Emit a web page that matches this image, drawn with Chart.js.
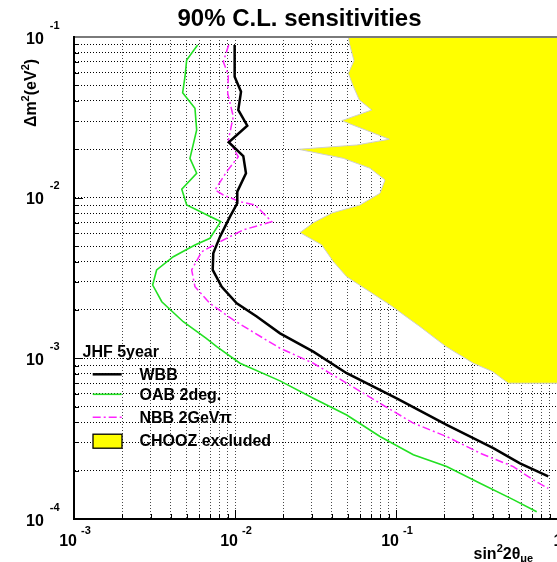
<!DOCTYPE html>
<html>
<head>
<meta charset="utf-8">
<script src="https://cdn.jsdelivr.net/npm/chart.js@4.4.1/dist/chart.umd.min.js"></script>
<style>
html,body{margin:0;padding:0;background:#fff;}
#wrap{position:relative;width:557px;height:562px;overflow:hidden;font-family:"Liberation Sans",Arial,Helvetica,sans-serif;font-weight:bold;color:#000;}
#wrap canvas{position:absolute;left:0;top:0;}
.t{position:absolute;white-space:nowrap;line-height:1;font-size:16px;}
.e{position:relative;font-size:11px;}
#legsvg{position:absolute;left:0;top:0;}
</style>
</head>
<body>
<div id="wrap">
<canvas id="c" width="557" height="562"></canvas>
<svg id="legsvg" width="557" height="562"></svg>
</div>
<script>
// ---------- data ----------
// x = sin^2 2theta_mue, y = delta m^2 (eV^2)
const wbbX = [0.00995, 0.00995, 0.0109, 0.01048, 0.01192, 0.00914, 0.01126, 0.0117, 0.01033, 0.01033, 0.00931, 0.00807, 0.00733, 0.00727, 0.00827, 0.01025, 0.01364, 0.01904, 0.03064, 0.04941, 0.101, 0.2065, 0.4021, 0.589, 0.883];
const wbbY = [0.0892, 0.0566, 0.04566, 0.03513, 0.02805, 0.02212, 0.01817, 0.01418, 0.0109, 0.00923, 0.00762, 0.00572, 0.00451, 0.00355, 0.00279, 0.0022, 0.00182, 0.00143, 0.0011, 0.000808, 0.000564, 0.000385, 0.000276, 0.000222, 0.000184];

const oabX = [0.00586, 0.00501, 0.00489, 0.00473, 0.00564, 0.00578, 0.00525, 0.00578, 0.00467, 0.00501, 0.00815, 0.00699, 0.00564, 0.00414, 0.00326, 0.00308, 0.00351, 0.00477, 0.0066, 0.0077, 0.01074, 0.01904, 0.03064, 0.04941, 0.0795, 0.1281, 0.2065, 0.3325, 0.5352, 0.7479];
const oabY = [0.0892, 0.0719, 0.0566, 0.045, 0.036, 0.02638, 0.01758, 0.01418, 0.01128, 0.00901, 0.00709, 0.00559, 0.00508, 0.00429, 0.00355, 0.00286, 0.00225, 0.00169, 0.001334, 0.001183, 0.000932, 0.000724, 0.000564, 0.000444, 0.000326, 0.000251, 0.000212, 0.000167, 0.000132, 0.000111];

const nbbX = [0.00914, 0.00846, 0.00909, 0.00901, 0.00976, 0.00909, 0.01048, 0.00888, 0.00751, 0.00846, 0.01074, 0.01331, 0.0169, 0.01126, 0.00807, 0.00621, 0.00538, 0.00564, 0.00699, 0.00976, 0.01499, 0.01904, 0.03064, 0.04941, 0.0795, 0.1281, 0.2065, 0.3325, 0.5352, 0.7125, 0.883];
const nbbY = [0.0892, 0.0702, 0.058, 0.04464, 0.03192, 0.02286, 0.01799, 0.01451, 0.01117, 0.01039, 0.00944, 0.00901, 0.00709, 0.0063, 0.00532, 0.00461, 0.00355, 0.00279, 0.0022, 0.001733, 0.001334, 0.001156, 0.000932, 0.0007, 0.000525, 0.000395, 0.000326, 0.000257, 0.000212, 0.000175, 0.000155];

// CHOOZ excluded region: left boundary, top to bottom (region extends to the right edge)
const choozX = [0.05055, 0.05128, 0.05484, 0.05055, 0.05383, 0.05916, 0.07066, 0.04601, 0.09087, 0.057, 0.02473, 0.04708, 0.06895, 0.08545, 0.0795, 0.05976, 0.04005, 0.03064, 0.02533, 0.03455, 0.0408, 0.04941, 0.09177, 0.141, 0.2045, 0.302, 0.3976, 0.4983];
const choozY = [0.1, 0.0914, 0.0712, 0.0594, 0.0503, 0.04055, 0.03513, 0.03014, 0.02309, 0.02128, 0.02001, 0.01758, 0.01524, 0.01288, 0.01065, 0.00901, 0.00803, 0.00699, 0.00606, 0.00508, 0.004, 0.00322, 0.00215, 0.001575, 0.001183, 0.000932, 0.000827, 0.0007];

// axes
const xMin = 0.001, xMax = 1;
const yMin = 0.0001, yMax = 0.1;
const xTickValues = [0.001, 0.01, 0.1, 1];
const xTickBase = ['10', '10', '10', '1'];
const xTickExp = ['-3', '-2', '-1', ''];
const yTickValues = [0.0001, 0.001, 0.01, 0.1];
const yTickBase = ['10', '10', '10', '10'];
const yTickExp = ['-4', '-3', '-2', '-1'];

const titleText = '90% C.L. sensitivities';
const legendTitle = 'JHF 5year';
const seriesNames = ['WBB', 'OAB 2deg.', 'NBB 2GeVπ', 'CHOOZ excluded'];

// styles
const colWBB = '#000000', colOAB = '#22e022', colNBB = '#ff22ff', colCHOOZ = '#ffff00', colCHOOZEdge = '#cfcfcf';
const nbbDash = [8, 3, 2, 3];

// ---------- build ----------
function decadeMultiples(lo, hi) {
  const out = [];
  for (let e = Math.round(Math.log10(lo)); e < Math.round(Math.log10(hi)); e++) {
    for (let m = 1; m <= 9; m++) out.push(+(m * Math.pow(10, e)).toPrecision(3));
  }
  out.push(hi);
  return out;
}
const gridX = decadeMultiples(xMin, xMax);
const gridY = decadeMultiples(yMin, yMax);
const isDecade = v => Math.abs(Math.log10(v) - Math.round(Math.log10(v))) < 1e-6;

const pts = (xs, ys) => xs.map((x, i) => ({x: x, y: ys[i]}));

// closed CHOOZ polygon: boundary, then along the bottom to the right edge, then up the right edge
const choozEdge = pts(choozX, choozY).concat([{x: xMax, y: choozY[choozY.length - 1]}]);
const choozShape = choozEdge.concat([{x: xMax, y: yMax}]);

const inTicks = {
  id: 'inTicks',
  afterDatasetsDraw(chart) {
    const {ctx, chartArea: a, scales: {x, y}} = chart;
    ctx.save();
    ctx.strokeStyle = '#000';
    ctx.lineWidth = 1;
    gridX.forEach(v => {
      const px = Math.round(x.getPixelForValue(v)) + 0.5;
      const L = isDecade(v) ? 9 : 5;
      ctx.beginPath(); ctx.moveTo(px, a.bottom); ctx.lineTo(px, a.bottom - L); ctx.stroke();
    });
    gridY.forEach(v => {
      const py = Math.round(y.getPixelForValue(v)) + 0.5;
      const L = isDecade(v) ? 9 : 5;
      ctx.beginPath(); ctx.moveTo(a.left, py); ctx.lineTo(a.left + L, py); ctx.stroke();
    });
    ctx.restore();
  }
};

const chart = new Chart(document.getElementById('c'), {
  type: 'scatter',
  data: {
    datasets: [
      {label: seriesNames[3], data: choozShape, showLine: true, fill: 'shape', backgroundColor: colCHOOZ,
       borderColor: 'rgba(0,0,0,0)', borderWidth: 0, pointRadius: 0, tension: 0, order: 5},
      {label: seriesNames[3] + ' edge', data: choozEdge, showLine: true, fill: false,
       borderColor: colCHOOZEdge, borderWidth: 1, pointRadius: 0, tension: 0, order: 4},
      {label: seriesNames[1], data: pts(oabX, oabY), showLine: true, fill: false, borderColor: colOAB,
       borderWidth: 1.6, pointRadius: 0, tension: 0, order: 3},
      {label: seriesNames[2], data: pts(nbbX, nbbY), showLine: true, fill: false, borderColor: colNBB,
       borderWidth: 1.5, borderDash: nbbDash, pointRadius: 0, tension: 0, order: 2},
      {label: seriesNames[0], data: pts(wbbX, wbbY), showLine: true, fill: false, borderColor: colWBB,
       borderWidth: 2.5, pointRadius: 0, tension: 0, order: 1}
    ]
  },
  options: {
    responsive: false,
    animation: false,
    layout: {padding: {left: 74, top: 37, right: 0, bottom: 43}},
    plugins: {legend: {display: false}, tooltip: {enabled: false}, title: {display: false}},
    scales: {
      x: {
        type: 'logarithmic', min: xMin, max: xMax, position: 'bottom',
        afterBuildTicks: s => { s.ticks = gridX.map(v => ({value: v})); },
        afterFit: s => { s.height = 0; },
        ticks: {display: false, autoSkip: false},
        grid: {color: '#4a4a4a', lineWidth: 1, drawTicks: false},
        border: {display: true, color: '#000', width: 2, dash: [1, 2], z: 1}
      },
      x2: {
        type: 'logarithmic', min: xMin, max: xMax, position: 'top',
        afterFit: s => { s.height = 0; },
        ticks: {display: false},
        grid: {display: false, drawTicks: false},
        border: {display: true, color: '#7a7a7a', width: 2, z: 1}
      },
      y: {
        type: 'logarithmic', min: yMin, max: yMax, position: 'left',
        afterBuildTicks: s => { s.ticks = gridY.map(v => ({value: v})); },
        afterFit: s => { s.width = 0; },
        ticks: {display: false, autoSkip: false},
        grid: {color: '#000', lineWidth: 1, drawTicks: false},
        border: {display: true, color: '#000', width: 2, dash: [1, 2], z: 1}
      }
    }
  },
  plugins: [inTicks]
});

// ---------- text overlays (real text, positioned from the chart's scales) ----------
const wrap = document.getElementById('wrap');
function addText(html, css) {
  const d = document.createElement('div');
  d.className = 't';
  d.innerHTML = html;
  Object.assign(d.style, css);
  wrap.appendChild(d);
  return d;
}
const area = chart.chartArea;
const sx = chart.scales.x, sy = chart.scales.y;

xTickValues.forEach((v, i) => {
  const px = sx.getPixelForValue(v);
  const exp = xTickExp[i] ? '<span class="e" style="top:-12px;margin-left:4px">' + xTickExp[i] + '</span>' : '';
  addText(xTickBase[i] + exp, {left: (px + 1) + 'px', top: (area.bottom + 13.5) + 'px', transform: 'translateX(-50%)'});
});
yTickValues.forEach((v, i) => {
  const py = sy.getPixelForValue(v);
  const exp = '<span class="e" style="top:-15px;margin-left:6px">' + yTickExp[i] + '</span>';
  addText(yTickBase[i] + exp, {left: (area.left - 48) + 'px', top: (py - 6.5) + 'px'});
});

addText(titleText, {fontSize: '24px', left: '299.5px', top: '5.7px', transform: 'translateX(-50%)'});
addText('Δm<span class="e" style="top:-7px">2</span>(eV<span class="e" style="top:-7px">2</span>)',
  {left: '31px', top: '92.5px', transform: 'translate(-50%,-50%) rotate(-90deg)'});
addText('sin<span class="e" style="top:-7px">2</span>2θ<span class="e" style="top:3px">μe</span>',
  {left: '473.5px', top: '545.8px'});

// legend
addText(legendTitle, {left: '82.5px', top: '344px'});
const legTops = [367, 386.8, 409.8, 433.3];
seriesNames.forEach((n, i) => addText(n, {left: '139.5px', top: legTops[i] + 'px'}));
const svg = document.getElementById('legsvg');
svg.innerHTML =
  '<line x1="92.7" y1="374.3" x2="121.7" y2="374.3" stroke="' + colWBB + '" stroke-width="2.5"/>' +
  '<line x1="92.7" y1="394.3" x2="121.7" y2="394.3" stroke="' + colOAB + '" stroke-width="1.6"/>' +
  '<line x1="92.7" y1="417.3" x2="121.7" y2="417.3" stroke="' + colNBB + '" stroke-width="1.5" stroke-dasharray="' + nbbDash.join(',') + '"/>' +
  '<rect x="93" y="434.2" width="29" height="14" fill="' + colCHOOZ + '" stroke="#000" stroke-width="1.3"/>';
</script>
</body>
</html>
